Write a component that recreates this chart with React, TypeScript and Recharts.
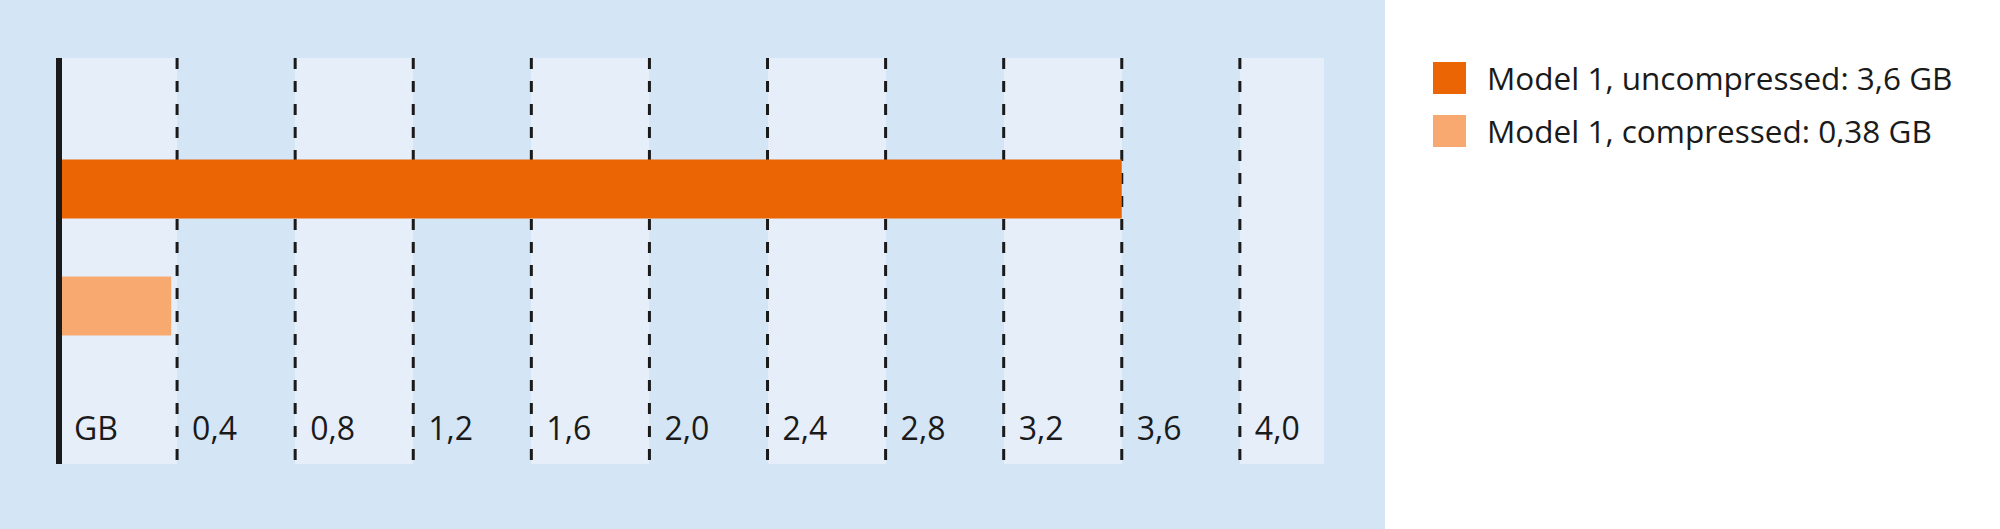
import React from 'react';
import {
  BarChart,
  Bar,
  Cell,
  XAxis,
  YAxis,
  CartesianGrid,
  ReferenceLine,
  Legend
} from 'recharts';

// values (GB)
const categories = ['Model 1, uncompressed', 'Model 1, compressed'];
const sizes = [3.6, 0.38];
const legendLabels = ['Model 1, uncompressed: 3,6 GB', 'Model 1, compressed: 0,38 GB'];
const ticks = [0, 0.4, 0.8, 1.2, 1.6, 2.0, 2.4, 2.8, 3.2, 3.6, 4.0];
const axisMax = 4.285;

const colors = ['#eb6505', '#f7a970'];
const PANEL = '#d4e5f6';
const BAND = '#e6eefa';
const INK = '#1a1a1a';
const FONT = '"Open Sans", sans-serif';

const data = categories.map((name, i) => ({ name, value: sizes[i] }));

const formatTick = (v: number) => (v === 0 ? 'GB' : v.toFixed(1).replace('.', ','));

const TickLabel = ({ x, y, payload }: any) => (
  <text
    x={x + 15}
    y={y - 24}
    fill={INK}
    fontSize={32}
    fontFamily={FONT}
    textAnchor="start"
  >
    {formatTick(payload.value)}
  </text>
);

const LegendBox = () => (
  <div style={{ fontFamily: FONT, fontSize: 31.5, color: INK }}>
    {legendLabels.map((label, i) => (
      <div key={label} style={{ display: 'flex', alignItems: 'center', height: 53, lineHeight: '53px' }}>
        <span style={{ display: 'inline-block', width: 33, height: 32, background: colors[i], marginRight: 21 }} />
        <span style={{ whiteSpace: 'nowrap' }}>{label}</span>
      </div>
    ))}
  </div>
);

export default function App() {
  return (
    <div style={{ position: 'relative', width: 2000, height: 529, background: '#ffffff' }}>
      <style>{'body{margin:0}'}</style>
      <div style={{ position: 'absolute', left: 0, top: 0, width: 1385, height: 529, background: PANEL }} />
      <div style={{ position: 'absolute', left: 0, top: 0 }}>
        <BarChart
          width={2000}
          height={529}
          data={data}
          layout="vertical"
          margin={{ top: 58, right: 676, bottom: 35, left: 59 }}
        >
          {/* dashed lines on the ticks, light band on every other 0.4 step */}
          <CartesianGrid
            horizontal={false}
            vertical
            syncWithTicks
            verticalFill={[BAND, 'transparent']}
            fillOpacity={1}
            stroke={INK}
            strokeWidth={3}
            strokeDasharray="11 12"
          />
          <XAxis
            type="number"
            domain={[0, axisMax]}
            ticks={ticks}
            height={30}
            axisLine={false}
            tickLine={false}
            tickSize={0}
            tickMargin={0}
            tick={<TickLabel />}
            interval={0}
            allowDataOverflow
          />
          <YAxis type="category" dataKey="name" hide padding={{ top: 72.5, bottom: 99.5 }} />
          <Bar dataKey="value" barSize={59} isAnimationActive={false}>
            {data.map((d, i) => (
              <Cell key={d.name} fill={colors[i]} />
            ))}
          </Bar>
          <ReferenceLine x={0} stroke={INK} strokeWidth={6} />
          <Legend
            layout="vertical"
            align="center"
            verticalAlign="middle"
            content={<LegendBox />}
            wrapperStyle={{ left: 1433, top: 51, width: 560 }}
          />
        </BarChart>
      </div>
    </div>
  );
}
